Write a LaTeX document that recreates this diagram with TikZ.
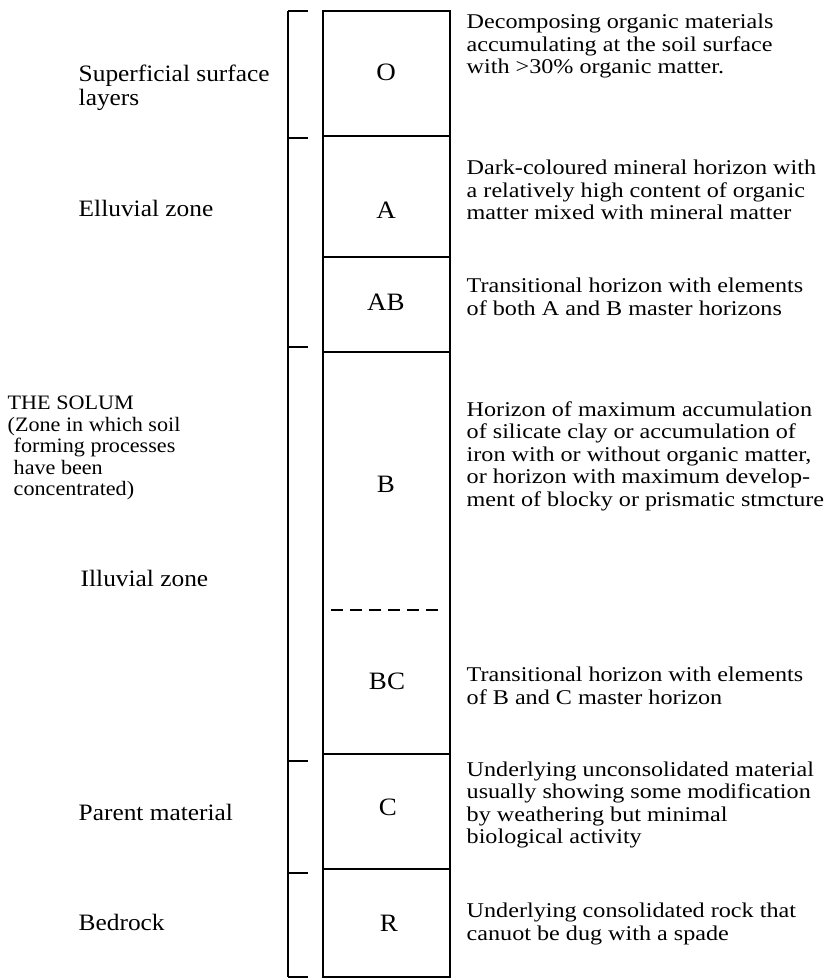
\documentclass[tikz,border=0pt]{standalone}
\usepackage{fontspec}
\setmainfont{Liberation Serif}[FakeStretch=1.08]
\newfontfamily\descfont{Liberation Serif}[FakeStretch=1.15]
\begin{document}
\begin{tikzpicture}[x=1pt,y=-1pt,line width=1.4pt,
  zonelabel/.style={anchor=west,inner sep=0pt,align=left,font=\fontsize{23.5}{24}\selectfont},
  solumlabel/.style={anchor=west,inner sep=0pt,align=left,font=\fontsize{20.5}{21.5}\selectfont},
  horizon/.style={inner sep=0pt,font=\fontsize{25}{25}\selectfont},
  desc/.style={anchor=west,inner sep=0pt,align=left,font=\descfont\fontsize{21}{22.5}\selectfont}]
\useasboundingbox (0,0) rectangle (830,978);
% bracket on the left
\draw (288,11) -- (288,977);
\foreach \y in {11,138,347,761,873,977}
  \draw (288,\y) -- (308,\y);
% the profile column
\draw (323,11) rectangle (450,977);
\foreach \y in {136,257,352,754,869}
  \draw (323,\y) -- (450,\y);
\draw[dashed,dash pattern=on 12pt off 7pt] (331,610) -- (440,610);
% horizon letters
\node[horizon] (O) at (386,72) {O};
\node[horizon] (A) at (386,210) {A};
\node[horizon] (AB) at (386,302) {AB};
\node[horizon] (B) at (386,484) {B};
\node[horizon] (BC) at (387,681) {BC};
\node[horizon] (C) at (388,807) {C};
\node[horizon] (R) at (389,923) {R};
% zones on the left
\node[zonelabel] (superficial) at (78,88) {Superficial surface\\layers};
\node[zonelabel] (elluvial) at (78,208) {Elluvial zone};
\node[solumlabel] (solum) at (7,448) {THE SOLUM\\(Zone in which soil\\\hspace*{6pt}forming processes\\\hspace*{6pt}have been\\\hspace*{6pt}concentrated)};
\node[zonelabel] (illuvial) at (80,578) {Illuvial zone};
\node[zonelabel] (parent) at (78,812) {Parent material};
\node[zonelabel] (bedrock) at (78,922) {Bedrock};
% descriptions on the right
\node[desc] (descO) at (466,46) {Decomposing organic materials\\accumulating at the soil surface\\with >30\% organic matter.};
\node[desc] (descA) at (466,190) {Dark-coloured mineral horizon with\\a relatively high content of organic\\matter mixed with mineral matter};
\node[desc] (descAB) at (466,297) {Transitional horizon with elements\\of both A and B master horizons};
\node[desc] (descB) at (466,456) {Horizon of maximum accumulation\\of silicate clay or accumulation of\\iron with or without organic matter,\\or horizon with maximum develop-\\ment of blocky or prismatic stmcture};
\node[desc] (descBC) at (466,686) {Transitional horizon with elements\\of B and C master horizon};
\node[desc] (descC) at (466,805) {Underlying unconsolidated material\\usually showing some modification\\by weathering but minimal\\biological activity};
\node[desc] (descR) at (466,924) {Underlying consolidated rock that\\canuot be dug with a spade};
\end{tikzpicture}
\end{document}
